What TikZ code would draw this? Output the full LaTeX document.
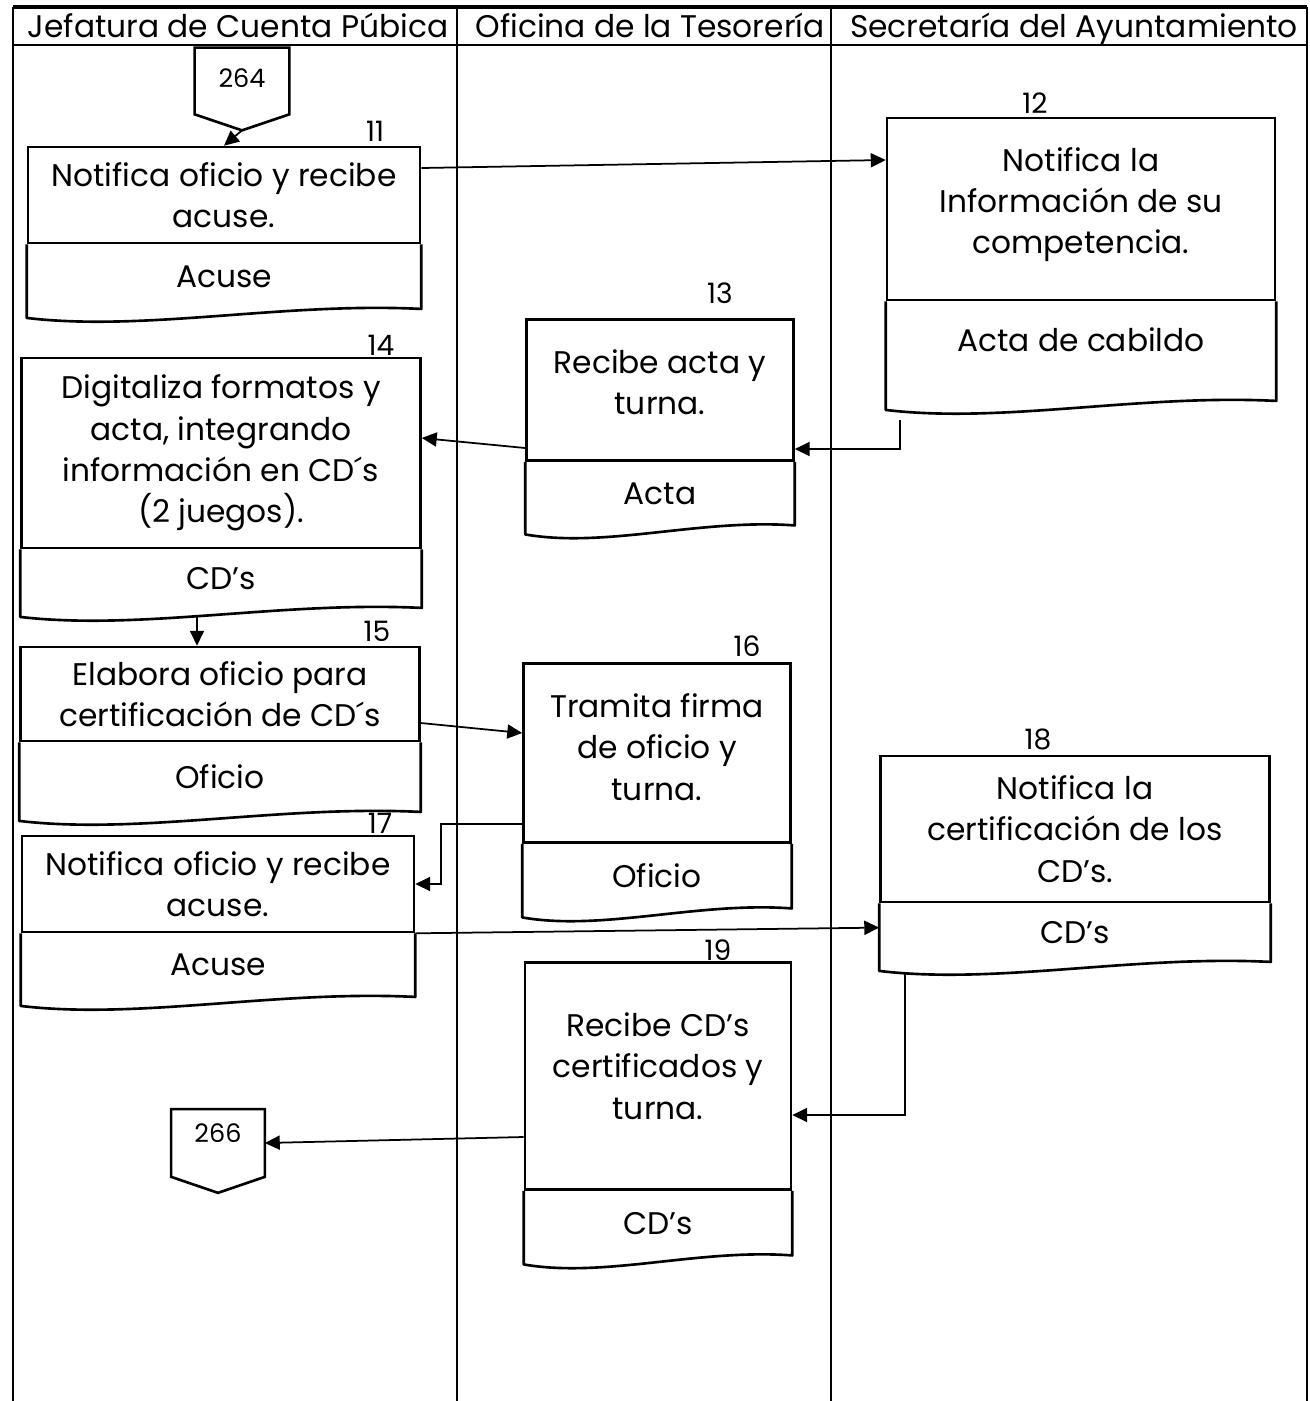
\documentclass[tikz,border=0pt]{standalone}
\usepackage{fontspec}
\setmainfont{Poppins}
\usetikzlibrary{arrows.meta,positioning,calc}

\tikzset{
  lane/.style={line width=0.9pt},
  proc/.style={draw,line width=1.5pt,align=center,inner sep=0pt,
    font=\fontsize{17.8}{23.5}\selectfont},
  docpart/.style={proc,draw=none},
  offpage/.style={inner sep=0pt,font=\fontsize{14.5}{17}\selectfont},
  stepno/.style={inner sep=0pt,font=\fontsize{16}{18}\selectfont},
  head/.style={anchor=base,font=\fontsize{17.8}{20}\selectfont},
  arrow/.style={-{Triangle[length=8.5pt,width=8pt]},line width=1pt}
}

\begin{document}
\begin{tikzpicture}[x=0.02cm,y=-0.02cm]
  \useasboundingbox (0,0) rectangle (1310,1401);

  % swimlanes
  \draw[line width=1.8pt] (13,7) -- (1307,7);
  \draw[lane] (13,45) -- (1307,45);
  \foreach \x in {13,457,831,1307}
    \draw[lane] (\x,7) -- (\x,1401);
  \node[head] (jefatura) at (238,37) {Jefatura de Cuenta Púbica};
  \node[head] (tesoreria) at (650,37) {Oficina de la Tesorería};
  \node[head] (secretaria) at (1074,37) {Secretaría del Ayuntamiento};

  % off-page connectors
  \node[offpage,minimum width=1.88cm,minimum height=1.32cm,text depth=0.12cm] (c264) at (242,81) {264};
  \node[offpage,minimum width=1.86cm,minimum height=1.34cm,text depth=0.4cm] (c266) at (218,1143) {266};
  \coordinate (t264) at ($(c264.south)+(0,16)$);
  \coordinate (t266) at ($(c266.south)+(0,16)$);
  \foreach \c in {264,266}
    \draw[line width=1.5pt] (c\c.north west) -- (c\c.south west) -- (t\c)
      -- (c\c.south east) -- (c\c.north east) -- cycle;

  % steps
  \node[proc,minimum width=7.84cm,minimum height=1.92cm] (p11) at (224,195)
    {Notifica oficio y recibe\\acuse.};
  \node[docpart,minimum width=7.84cm,minimum height=1.24cm,below=0pt of p11] (d11) {Acuse};

  \node[proc,minimum width=7.76cm,minimum height=3.64cm,text depth=0.33cm] (p12) at (1081,209)
    {Notifica la\\Información de su\\competencia.};
  \node[docpart,minimum width=7.76cm,minimum height=1.94cm,text depth=0.48cm,below=0pt of p12] (d12) {Acta de cabildo};

  \node[proc,minimum width=5.34cm,minimum height=2.82cm,text depth=0.32cm] (p13) at (660,390)
    {Recibe acta y\\turna.};
  \node[docpart,minimum width=5.34cm,minimum height=1.22cm,below=0pt of p13] (d13) {Acta};

  \node[proc,minimum width=7.98cm,minimum height=3.8cm] (p14) at (221,453)
    {Digitaliza formatos y\\acta, integrando\\información en CD´s\\(2 juegos).};
  \node[docpart,minimum width=7.98cm,minimum height=1.12cm,below=0pt of p14] (d14) {CD’s};

  \node[proc,minimum width=7.98cm,minimum height=1.88cm] (p15) at (220,694)
    {Elabora oficio para\\certificación de CD´s};
  \node[docpart,minimum width=7.98cm,minimum height=1.34cm,below=0pt of p15] (d15) {Oficio};

  \node[proc,minimum width=5.34cm,minimum height=3.58cm,text depth=0.24cm] (p16) at (657,753)
    {Tramita firma\\de oficio y\\turna.};
  \node[docpart,minimum width=5.34cm,minimum height=1.24cm,below=0pt of p16] (d16) {Oficio};

  \node[proc,minimum width=7.84cm,minimum height=1.92cm] (p17) at (218,884)
    {Notifica oficio y recibe\\acuse.};
  \node[docpart,minimum width=7.84cm,minimum height=1.22cm,below=0pt of p17] (d17) {Acuse};

  \node[proc,minimum width=7.78cm,minimum height=2.92cm] (p18) at (1075,829)
    {Notifica la\\certificación de los\\CD’s.};
  \node[docpart,minimum width=7.78cm,minimum height=1.12cm,below=0pt of p18] (d18) {CD’s};

  \node[proc,minimum width=5.32cm,minimum height=4.54cm,text depth=0.4cm] (p19) at (658,1076)
    {Recibe CD’s\\certificados y\\turna.};
  \node[docpart,minimum width=5.32cm,minimum height=1.24cm,below=0pt of p19] (d19) {CD’s};

  % wavy bottoms of the documents
  \foreach \d in {d11,d12,d13,d14,d15,d16,d17,d18,d19}
    \draw[line width=1.5pt,line join=round] (\d.north west) -- ($(\d.south west)+(0,9)$)
      .. controls ($(\d.south west)!.3!(\d.south east)+(0,23)$)
      and ($(\d.south west)!.65!(\d.south east)+(0,-7)$) .. (\d.south east)
      -- (\d.north east);

  % step numbers
  \node[stepno] (n11) at (375,131) {11};
  \node[stepno] (n12) at (1035,103) {12};
  \node[stepno] (n13) at (720,293) {13};
  \node[stepno] (n14) at (381,345) {14};
  \node[stepno] (n15) at (377,631) {15};
  \node[stepno] (n16) at (747,646) {16};
  \node[stepno] (n17) at (380,823) {17};
  \node[stepno] (n18) at (1038,739) {18};
  \node[stepno] (n19) at (718,950) {19};

  % flow
  \coordinate (s12) at (900,420);
  \coordinate (s14) at (197,617);
  \coordinate (s18) at (905,972);
  \draw[arrow] (t264) -- (p11.north);
  \draw[arrow] ($(p11.east)+(0,-27)$) -- ($(p12.west)+(0,-49)$);
  \draw[arrow] (s12) |- ($(p13.east)+(0,59)$);
  \draw[arrow] ($(p13.west)+(0,58)$) -- ($(p14.east)+(0,-15)$);
  \draw[arrow] (s14) -- (s14 |- p15.north);
  \draw[arrow] ($(p15.east)+(0,29)$) -- ($(p16.west)+(0,-20)$);
  \draw[arrow] ($(p16.west)+(0,71)$) -| ($(p17.east)+(26,0)$) -- (p17.east);
  \draw[arrow] (p17.south east) -- ($(d18.west)+(0,-5)$);
  \draw[arrow] (s18) |- ($(p19.east)+(0,39)$);
  \draw[arrow] ($(p19.west)+(0,61)$) -- (c266.east);
\end{tikzpicture}
\end{document}
